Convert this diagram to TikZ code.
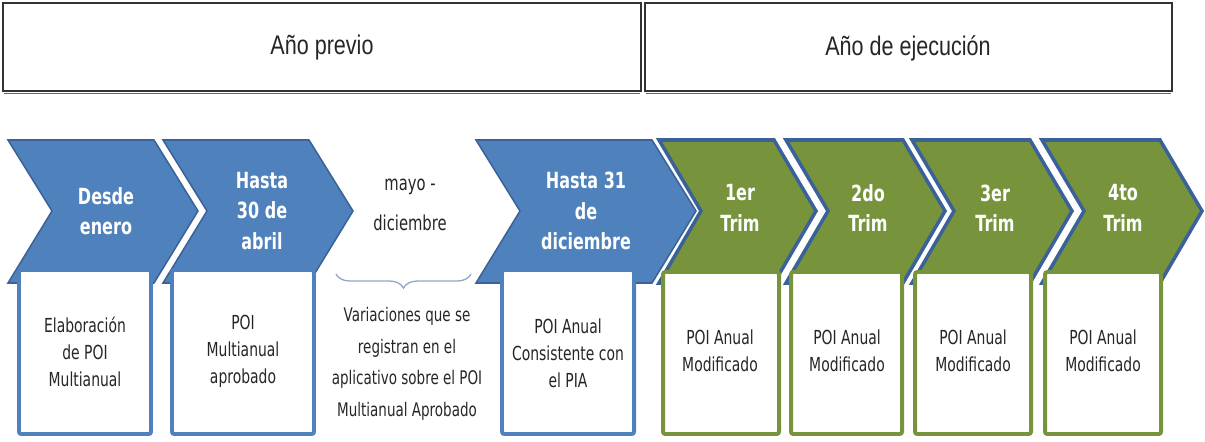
\documentclass[tikz,border=0pt]{standalone}
\usepackage{fontspec}
\setmainfont{DejaVu Sans}[FakeStretch=0.72]
\newfontfamily\titlefont{Liberation Sans}[FakeStretch=0.8]
\usetikzlibrary{decorations.pathreplacing}

\definecolor{azul}{HTML}{4F81BD}
\definecolor{azulosc}{HTML}{3A6299}
\definecolor{verde}{HTML}{77933C}
\definecolor{texto}{HTML}{262626}
\definecolor{llavegris}{HTML}{8FA6C4}

% #1 = x izquierda, #2 = ancho, #3 = punta, #4 = estilo
\newcommand{\flecha}[4]{%
  \draw[#4] (#1,140) -- ++(#2-#3,0) -- ++(#3,71) -- ++(-#3,72)
    -- ++(-#2+#3,0) -- ++(#3,-72) -- cycle;
}

\begin{document}
\begin{tikzpicture}[x=0.03cm, y=-0.03cm]
\tikzset{cabecera/.style={draw=black!80, line width=1.2pt},
  titulo/.style={font=\titlefont\fontsize{23}{26}\selectfont, text=texto},
  flechaazul/.style={fill=azul, draw=azulosc, line width=1.3pt, line join=miter},
  flechaverde/.style={fill=verde, draw=azulosc, line width=3pt, line join=miter},
  cajaazul/.style={fill=white, draw=azul, line width=3.4pt, rounded corners=2pt},
  cajaverde/.style={fill=white, draw=verde, line width=3.4pt, rounded corners=2pt},
  etiqueta/.style={align=center, text=white, font=\bfseries\fontsize{19}{26}\selectfont},
  caja/.style={align=center, text=texto, font=\fontsize{16.5}{23}\selectfont},
  llave/.style={draw=llavegris, line width=1.1pt, decorate,
    decoration={brace, mirror, amplitude=12pt}}}
\useasboundingbox (0,0) rectangle (1205,441);

% encabezados
\draw[cabecera] (3,3) rectangle (641,91);
\draw[cabecera] (645,3) rectangle (1172,91);
\draw[black!60, line width=0.8pt] (4,93) -- (640,93);
\draw[black!60, line width=0.8pt] (646,93) -- (1171,93);
\node[titulo] (previo) at (322,48) {Año previo};
\node[titulo] (ejecucion) at (908,48) {Año de ejecución};

% flechas del año previo
\flecha{8}{190}{44}{flechaazul}
\flecha{163}{190}{44}{flechaazul}
\flecha{476}{220}{44}{flechaazul}

% flechas del año de ejecución
\flecha{659}{157}{42}{flechaverde}
\flecha{786}{159}{42}{flechaverde}
\flecha{912}{160}{42}{flechaverde}
\flecha{1042}{160}{42}{flechaverde}

\node[etiqueta] (desde) at (106,211) {Desde\\enero};
\node[etiqueta] (abril) at (262,211) {Hasta\\30 de\\abril};
\node[etiqueta] (dic) at (586,211) {Hasta 31\\de\\diciembre};
\node[etiqueta] (trim1) at (740,208) {1er\\Trim};
\node[etiqueta] (trim2) at (868,208) {2do\\Trim};
\node[etiqueta] (trim3) at (995,208) {3er\\Trim};
\node[etiqueta] (trim4) at (1123,208) {4to\\Trim};
\node[caja, font=\fontsize{17.5}{34}\selectfont] (mayo) at (410,205) {mayo -\\diciembre};

% cajas
\draw[cajaazul] (19,270) rectangle (151,434);
\draw[cajaazul] (172,270) rectangle (314,434);
\draw[cajaazul] (502,270) rectangle (634,434);
\draw[cajaverde] (663,272) rectangle (779,434);
\draw[cajaverde] (791,272) rectangle (902,434);
\draw[cajaverde] (915,272) rectangle (1031,434);
\draw[cajaverde] (1045,272) rectangle (1161,434);

\node[caja] (elab) at (85,352) {Elaboración\\de POI\\Multianual};
\node[caja] (aprob) at (243,351) {POI\\Multianual\\aprobado};
\node[caja] (pia) at (568,353) {POI Anual\\Consistente con\\el PIA};
\node[caja] (mod1) at (720,351) {POI Anual\\Modificado};
\node[caja] (mod2) at (847,351) {POI Anual\\Modificado};
\node[caja] (mod3) at (973,351) {POI Anual\\Modificado};
\node[caja] (mod4) at (1103,351) {POI Anual\\Modificado};

% llave y variaciones
\coordinate (llaveizq) at (336,274);
\coordinate (llaveder) at (471,274);
\draw[llave] (llaveizq) -- (llaveder);
\node[caja, font=\fontsize{16}{27}\selectfont] (variac) at (407,364) {Variaciones que se\\registran en el\\aplicativo sobre el POI\\Multianual Aprobado};
\end{tikzpicture}
\end{document}
